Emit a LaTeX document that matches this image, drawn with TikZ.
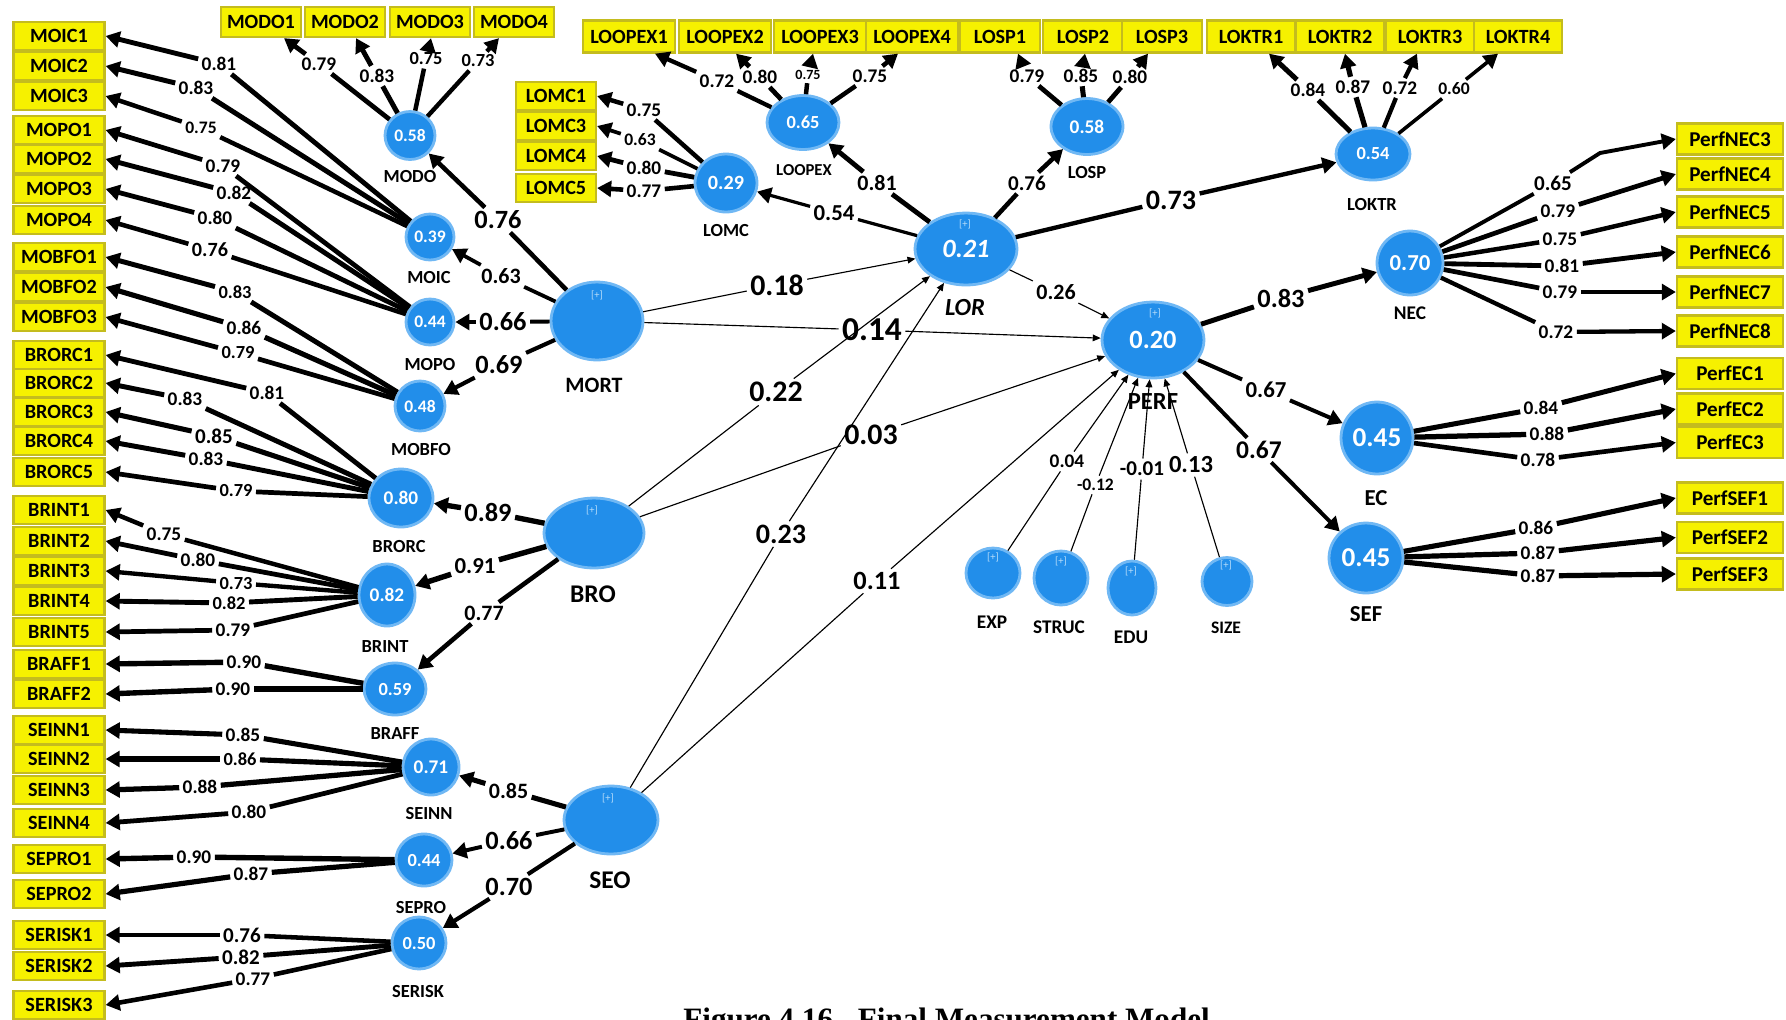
\documentclass[tikz,border=0pt]{standalone}
\usepackage{fontspec}
\setmainfont{Carlito}
\newfontfamily\capfont{Liberation Serif}
\usetikzlibrary{arrows.meta,shapes.geometric,calc}

\definecolor{indyellow}{RGB}{246,241,0}
\definecolor{indedge}{RGB}{196,188,30}
\definecolor{lvblue}{RGB}{34,142,234}
\definecolor{lvedge}{RGB}{112,184,244}
\definecolor{plusc}{RGB}{185,222,250}

\tikzset{
  ind/.style 2 args={draw=indedge, fill=indyellow, line width=1.3pt,
    minimum width=#1*0.02cm, minimum height=#2*0.02cm, inner sep=0pt,
    font=\bfseries\fontsize{11.5}{11.5}\selectfont},
  lv/.style 2 args={ellipse, fill=lvblue, draw=lvedge, line width=1.6pt,
    minimum width=#1*0.04cm, minimum height=#2*0.04cm, inner sep=0pt, text=white},
  vf/.style={font=\bfseries\fontsize{#1}{#1}\selectfont},
  cn/.style={font=\bfseries\fontsize{#1}{#1}\selectfont, inner sep=0pt},
  lb/.style={font=\bfseries\fontsize{#1}{#1}\selectfont, inner sep=1.8pt},
  pl/.style={text=plusc, font=\fontsize{6}{6}\selectfont, inner sep=0pt},
  thk/.style={line width=#1*3.4pt},
  tip/.style={-{Triangle[length=8pt,width=9pt]}},
  tipthin/.style={-{Triangle[length=4.5pt,width=3.8pt]}},
}

% weighted connector: latent -> label -> target
\newcommand\loading[6]{%
  \node[lb=#4] (#2) at (#3) {#5};
  \draw[thk=#5] (#1) -- (#2);
  \draw[thk=#5,tip] (#2) -- (#6);}
% thin connector for small path coefficients
\newcommand\thinpath[6]{%
  \node[lb=#4] (#2) at (#3) {#5};
  \draw[line width=0.65pt] (#1) -- (#2);
  \draw[line width=0.65pt,tipthin] (#2) -- (#6);}

\begin{document}
\begin{tikzpicture}[x=0.02cm,y=-0.02cm]
\useasboundingbox (0,0) rectangle (1786,1019);
\fill[white] (0,0) rectangle (1786,1019);
\clip (0,0) rectangle (1786,1019);

% ---------- indicator boxes ----------
\foreach \n/\y in {MOIC1/36,MOIC2/66,MOIC3/96,MOPO1/130,MOPO2/159,MOPO3/189,MOPO4/220,
  MOBFO1/257,MOBFO2/287,MOBFO3/317,BRORC1/355,BRORC2/383,BRORC3/412,BRORC4/441,BRORC5/472,
  BRINT1/510,BRINT2/541,BRINT3/571,BRINT4/601,BRINT5/632,BRAFF1/664,BRAFF2/694,
  SEINN1/730,SEINN2/759,SEINN3/790,SEINN4/823,SEPRO1/859,SEPRO2/894,
  SERISK1/935,SERISK2/966,SERISK3/1005}
  {\node[ind={91}{28}] (\n) at (59,\y) {\n};}

\foreach \n/\x in {MODO1/261,MODO2/345,MODO3/430,MODO4/514}
  {\node[ind={80}{30}] (\n) at (\x,22) {\n};}

\foreach \n/\x/\w in {LOOPEX1/629/92,LOOPEX2/725/92,LOOPEX3/820/92,LOOPEX4/912/92,
  LOSP1/1000/80,LOSP2/1083/80,LOSP3/1162/80,
  LOKTR1/1251/88,LOKTR2/1340/88,LOKTR3/1430/88,LOKTR4/1518/88}
  {\node[ind={\w}{32}] (\n) at (\x,36.5) {\n};}

\foreach \n/\y in {LOMC1/96,LOMC3/126,LOMC4/156,LOMC5/188}
  {\node[ind={80}{28}] (\n) at (556,\y) {\n};}

\foreach \n/\y in {PerfNEC3/139,PerfNEC4/174,PerfNEC5/212,PerfNEC6/252,PerfNEC7/292,PerfNEC8/331,
  PerfEC1/373.5,PerfEC2/409,PerfEC3/442.5,PerfSEF1/498,PerfSEF2/537.5,PerfSEF3/574}
  {\node[ind={106}{31},font=\bfseries\fontsize{12}{12}\selectfont] (\n) at (1730,\y) {\n};}

% ---------- latent variables ----------
\node[lv={25}{24},vf=10] (MODO) at (410,135.5) {0.58};
\node[lv={24}{23},vf=10] (MOIC) at (430,237) {0.39};
\node[lv={24}{23},vf=10] (MOPO) at (430,322) {0.44};
\node[lv={25}{25},vf=10] (MOBFO) at (420,406) {0.48};
\node[lv={32}{29},vf=11] (BRORC) at (401,498) {0.80};
\node[lv={28}{31},vf=11] (BRINT) at (387,595) {0.82};
\node[lv={31}{26},vf=10.5] (BRAFF) at (395,689) {0.59};
\node[lv={28}{28},vf=11] (SEINN) at (431,767) {0.71};
\node[lv={28}{26},vf=10.5] (SEPRO) at (424,860) {0.44};
\node[lv={27}{26},vf=10.5] (SERISK) at (419,943) {0.50};
\node[lv={46}{39}] (MORT) at (597,321) {};
\node[lv={50}{35}] (BRO) at (594,533) {};
\node[lv={47}{34}] (SEO) at (611,820) {};
\node[lv={31}{29},vf=11.5] (LOMC) at (726,183) {0.29};
\node[lv={36}{27},vf=10.5] (LOOPEX) at (803,122.5) {0.65};
\node[lv={36}{28},vf=11] (LOSP) at (1087,126.5) {0.58};
\node[lv={37}{26},vf=10.5] (LOKTR) at (1373,154) {0.54};
\node[lv={51}{36},font=\bfseries\itshape\fontsize{15}{15}\selectfont] (LOR) at (966,249) {0.21};
\node[lv={51}{38},vf=15] (PERF) at (1153,340) {0.20};
\node[lv={33}{32},vf=13] (NEC) at (1410,263) {0.70};
\node[lv={36}{36},vf=15.5] (EC) at (1377,438) {0.45};
\node[lv={37}{35},vf=15.5] (SEF) at (1366,558) {0.45};
\node[lv={27}{25}] (EXP) at (993,573) {};
\node[lv={27}{27}] (STRUC) at (1061,578) {};
\node[lv={24}{27}] (EDU) at (1132,588) {};
\node[lv={25}{24}] (SIZE) at (1227,581.5) {};

% expandable-construct markers
\node[pl] (MORTp) at (597,295) {[+]};
\node[pl] (BROp) at (592,510) {[+]};
\node[pl] (SEOp) at (608,798) {[+]};
\node[pl] (LORp) at (965,224) {[+]};
\node[pl] (PERFp) at (1155,313) {[+]};
\node[pl] (EXPp) at (993,557) {[+]};
\node[pl] (STRUCp) at (1061,561) {[+]};
\node[pl] (EDUp) at (1131,571) {[+]};
\node[pl] (SIZEp) at (1226,565) {[+]};

% construct names
\node[cn=10.5] (nMODO) at (410,176.5) {MODO};
\node[cn=10.5] (nMOIC) at (429,278) {MOIC};
\node[cn=10.5] (nMOPO) at (430,365) {MOPO};
\node[cn=10.5] (nMOBFO) at (421,450) {MOBFO};
\node[cn=10.5] (nBRORC) at (399,547) {BRORC};
\node[cn=10.5] (nBRINT) at (385,646.5) {BRINT};
\node[cn=10.5] (nBRAFF) at (395,734) {BRAFF};
\node[cn=10.5] (nSEINN) at (429,813) {SEINN};
\node[cn=10.5] (nSEPRO) at (421,907) {SEPRO};
\node[cn=10.5] (nSERISK) at (418,991.5) {SERISK};
\node[cn=12.5] (nMORT) at (594,385) {MORT};
\node[cn=14.5] (nBRO) at (593,594) {BRO};
\node[cn=14.5] (nSEO) at (610,880) {SEO};
\node[cn=10.5] (nLOMC) at (726,230.5) {LOMC};
\node[cn=9.5] (nLOOPEX) at (804,170) {LOOPEX};
\node[cn=10.5] (nLOSP) at (1087,172.5) {LOSP};
\node[cn=10.5] (nLOKTR) at (1372,205) {LOKTR};
\node[cn=14,font=\bfseries\itshape\fontsize{14}{14}\selectfont] (nLOR) at (965,308) {LOR};
\node[cn=14] (nPERF) at (1153,401.5) {PERF};
\node[cn=11] (nNEC) at (1410,313.5) {NEC};
\node[cn=13] (nEC) at (1376,498) {EC};
\node[cn=13] (nSEF) at (1366,614) {SEF};
\node[cn=11] (nEXP) at (992,622) {EXP};
\node[cn=11] (nSTRUC) at (1059,627) {STRUC};
\node[cn=11] (nEDU) at (1131,637) {EDU};
\node[cn=10] (nSIZE) at (1226,628) {SIZE};

% ---------- outer loadings ----------
\loading{MOIC}{wMOIC1}{219,64}{11}{0.81}{MOIC1.east}
\loading{MOIC}{wMOIC2}{196,88}{11}{0.83}{MOIC2.east}
\loading{MOIC}{wMOIC3}{201,128}{10}{0.75}{MOIC3.east}
\loading{MOPO}{wMOPO1}{223,166}{11}{0.79}{MOPO1.east}
\loading{MOPO}{wMOPO2}{234,193}{11}{0.82}{MOPO2.east}
\loading{MOPO}{wMOPO3}{215,218}{11}{0.80}{MOPO3.east}
\loading{MOPO}{wMOPO4}{210,250}{11.5}{0.76}{MOPO4.east}
\loading{MOBFO}{wMOBFO1}{235,292}{10.5}{0.83}{MOBFO1.east}
\loading{MOBFO}{wMOBFO2}{244,328}{11}{0.86}{MOBFO2.east}
\loading{MOBFO}{wMOBFO3}{238,353}{10.5}{0.79}{MOBFO3.east}
\loading{BRORC}{wBRORC1}{267,393}{11}{0.81}{BRORC1.east}
\loading{BRORC}{wBRORC2}{185,399}{11}{0.83}{BRORC2.east}
\loading{BRORC}{wBRORC3}{214,436}{12}{0.85}{BRORC3.east}
\loading{BRORC}{wBRORC4}{206,459}{11}{0.83}{BRORC4.east}
\loading{BRORC}{wBRORC5}{236,491}{10.5}{0.79}{BRORC5.east}
\loading{BRINT}{wBRINT1}{164,534}{11}{0.75}{BRINT1.east}
\loading{BRINT}{wBRINT2}{198,560}{11}{0.80}{BRINT2.east}
\loading{BRINT}{wBRINT3}{236,583}{10.5}{0.73}{BRINT3.east}
\loading{BRINT}{wBRINT4}{229,603}{10.5}{0.82}{BRINT4.east}
\loading{BRINT}{wBRINT5}{233,630}{11}{0.79}{BRINT5.east}
\loading{BRAFF}{wBRAFF1}{244,662}{11}{0.90}{BRAFF1.east}
\loading{BRAFF}{wBRAFF2}{233,689}{11}{0.90}{BRAFF2.east}
\loading{SEINN}{wSEINN1}{243,735}{11}{0.85}{SEINN1.east}
\loading{SEINN}{wSEINN2}{240,759}{10.5}{0.86}{SEINN2.east}
\loading{SEINN}{wSEINN3}{200,787}{11}{0.88}{SEINN3.east}
\loading{SEINN}{wSEINN4}{249,812}{11}{0.80}{SEINN4.east}
\loading{SEPRO}{wSEPRO1}{194,857}{11}{0.90}{SEPRO1.east}
\loading{SEPRO}{wSEPRO2}{251,874}{11}{0.87}{SEPRO2.east}
\loading{SERISK}{wSERISK1}{242,935}{12}{0.76}{SERISK1.east}
\loading{SERISK}{wSERISK2}{241,957}{12}{0.82}{SERISK2.east}
\loading{SERISK}{wSERISK3}{253,979}{11}{0.77}{SERISK3.east}

\loading{MODO}{wMODO1}{319,64}{11}{0.79}{$(MODO1.south)+(23,0)$}
\loading{MODO}{wMODO2}{377,76}{11}{0.83}{$(MODO2.south)+(11,0)$}
\loading{MODO}{wMODO3}{426,59}{10.5}{0.75}{$(MODO3.south)+(1,0)$}
\loading{MODO}{wMODO4}{478,61}{10.5}{0.73}{$(MODO4.south)+(-15,0)$}

\loading{LOOPEX}{wLOOPEX1}{717,81}{11}{0.72}{$(LOOPEX1.south)+(26,0)$}
\loading{LOOPEX}{wLOOPEX2}{760,77}{11}{0.80}{$(LOOPEX2.south)+(11,0)$}
\loading{LOOPEX}{wLOOPEX3}{808,75}{8}{0.75}{$(LOOPEX3.south)+(-7,0)$}
\loading{LOOPEX}{wLOOPEX4}{870,76}{11}{0.75}{$(LOOPEX4.south)+(-14,0)$}

\loading{LOSP}{wLOSP1}{1027,76}{11}{0.79}{$(LOSP1.south)+(18,0)$}
\loading{LOSP}{wLOSP2}{1081,76}{11}{0.85}{$(LOSP2.south)+(2,0)$}
\loading{LOSP}{wLOSP3}{1130,77}{11}{0.80}{$(LOSP3.south)+(-14,0)$}

\loading{LOKTR}{wLOKTR1}{1308,90}{11}{0.84}{$(LOKTR1.south)+(18,0)$}
\loading{LOKTR}{wLOKTR2}{1353,87}{11}{0.87}{$(LOKTR2.south)+(5,0)$}
\loading{LOKTR}{wLOKTR3}{1400,88}{11}{0.72}{$(LOKTR3.south)+(-13,0)$}
\loading{LOKTR}{wLOKTR4}{1454,89}{10}{0.60}{$(LOKTR4.south)+(-20,0)$}

\loading{LOMC}{wLOMC1}{644,110}{11}{0.75}{LOMC1.east}
\loading{LOMC}{wLOMC3}{640,140}{10}{0.63}{LOMC3.east}
\loading{LOMC}{wLOMC4}{644,168}{11}{0.80}{LOMC4.east}
\loading{LOMC}{wLOMC5}{644,191}{11}{0.77}{LOMC5.east}

% PerfNEC3 link is routed through a bend
\node[lb=12] (wPerfNEC3) at (1553,183) {0.65};
\coordinate (necbend) at (1600,153);
\draw[thk=0.65] (NEC) -- (wPerfNEC3);
\draw[thk=0.65,tip] (wPerfNEC3) -- (necbend) -- (PerfNEC3.west);
\loading{NEC}{wPerfNEC4}{1558,211}{11}{0.79}{PerfNEC4.west}
\loading{NEC}{wPerfNEC5}{1560,239}{11}{0.75}{PerfNEC5.west}
\loading{NEC}{wPerfNEC6}{1562,266}{11}{0.81}{PerfNEC6.west}
\loading{NEC}{wPerfNEC7}{1560,292}{11}{0.79}{PerfNEC7.west}
\loading{NEC}{wPerfNEC8}{1556,332}{11}{0.72}{PerfNEC8.west}
\loading{EC}{wPerfEC1}{1541,408}{11}{0.84}{PerfEC1.west}
\loading{EC}{wPerfEC2}{1547,434}{11}{0.88}{PerfEC2.west}
\loading{EC}{wPerfEC3}{1538,460}{11}{0.78}{PerfEC3.west}
\loading{SEF}{wPerfSEF1}{1536,528}{11}{0.86}{PerfSEF1.west}
\loading{SEF}{wPerfSEF2}{1538,553}{11}{0.87}{PerfSEF2.west}
\loading{SEF}{wPerfSEF3}{1538,576}{11}{0.87}{PerfSEF3.west}

% ---------- inner model ----------
\loading{MORT}{pMODO}{498,220}{15}{0.76}{MODO}
\loading{MORT}{pMOIC}{501,276}{12.5}{0.63}{MOIC}
\loading{MORT}{pMOPO}{503,322}{15}{0.66}{MOPO}
\loading{MORT}{pMOBFO}{499,365}{15}{0.69}{MOBFO}
\loading{BRO}{pBRORC}{488,512}{15}{0.89}{BRORC}
\loading{BRO}{pBRINT}{475,566.5}{13}{0.91}{BRINT}
\loading{BRO}{pBRAFF}{484,613}{12.5}{0.77}{BRAFF}
\loading{SEO}{pSEINN}{508.5,790.5}{12.5}{0.85}{SEINN}
\loading{SEO}{pSEPRO}{509,840.5}{15}{0.66}{SEPRO}
\loading{SEO}{pSERISK}{509,886.5}{15}{0.70}{SERISK}
\loading{LOR}{pLOMC}{834,213}{13}{0.54}{LOMC}
\loading{LOR}{pLOOPEX}{877,183}{12.5}{0.81}{LOOPEX}
\loading{LOR}{pLOSP}{1027,183}{12}{0.76}{LOSP}
\loading{LOR}{pLOKTR}{1171,200}{16}{0.73}{LOKTR}
\loading{PERF}{pNEC}{1281,298}{15}{0.83}{NEC}
\loading{PERF}{pEC}{1266,390}{13}{0.67}{EC}
\loading{PERF}{pSEF}{1259,450}{14.5}{0.67}{SEF}

\thinpath{MORT}{pMORTLOR}{777,285}{17}{0.18}{LOR}
\thinpath{MORT}{pMORTPERF}{872,330}{19}{0.14}{PERF}
\thinpath{BRO}{pBROLOR}{776,392}{17}{0.22}{LOR}
\thinpath{BRO}{pBROPERF}{871,435}{17}{0.03}{PERF}
\thinpath{SEO}{pSEOLOR}{781,534}{16}{0.23}{LOR}
\thinpath{SEO}{pSEOPERF}{877,581}{15}{0.11}{PERF}
\thinpath{LOR}{pLORPERF}{1056,292}{12.5}{0.26}{PERF}
\thinpath{EXP}{pEXP}{1067,461.5}{11}{0.04}{PERF}
\thinpath{STRUC}{pSTRUC}{1095.5,485}{10}{-0.12}{PERF}
\thinpath{EDU}{pEDU}{1142,469}{12}{-0.01}{PERF}
\thinpath{SIZE}{pSIZE}{1191,465}{14}{0.13}{PERF}

% ---------- caption ----------
\node[font=\capfont\bfseries\fontsize{17.7}{18}\selectfont, anchor=base west, inner sep=0pt]
  (caption) at (683,1029) {Figure 4.16\hspace{0.55em} Final Measurement Model};
\end{tikzpicture}
\end{document}
